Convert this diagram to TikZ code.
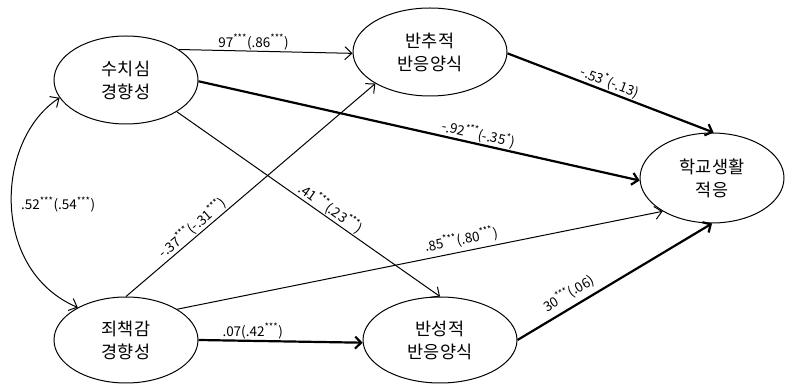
\documentclass[tikz,border=0pt]{standalone}
\usepackage{fontspec}
\setmainfont{Noto Sans CJK KR}
\usetikzlibrary{shapes.geometric,arrows.meta}
\newcommand{\sg}[1]{\textsuperscript{#1}}
\begin{document}
\begin{tikzpicture}[x=1pt,y=1pt,
  lat/.style={ellipse,draw,line width=1pt,inner sep=0pt,align=center,font=\fontsize{17.5}{23}\selectfont},
  pthin/.style={line width=1pt,-{Straight Barb[length=7pt,width=13pt]}},
  pthick/.style={line width=2.2pt,-{Straight Barb[length=6pt,width=12pt]}},
  lbl/.style={font=\fontsize{13.5}{15}\selectfont,inner sep=1pt}]
\useasboundingbox (0,0) rectangle (787,385);
\node[lat,minimum width=144pt,minimum height=88pt] (A) at (126,305) {수치심\\경향성};
\node[lat,minimum width=154pt,minimum height=88pt] (B) at (430,333) {반추적\\반응양식};
\node[lat,minimum width=144pt,minimum height=90pt] (C) at (712,207) {학교생활\\적응};
\node[lat,minimum width=144pt,minimum height=86pt] (D) at (126,45) {죄책감\\경향성};
\node[lat,minimum width=154pt,minimum height=86pt] (E) at (440,45) {반성적\\반응양식};
\draw[pthin] (A.30) -- node[lbl,above,pos=0.43]{97\sg{***}(.86\sg{***})} (B.181);
\draw[pthick] (A.-1) -- node[lbl,sloped,above,pos=0.63]{-.92\sg{***}(-.35\sg{*})} (C.182);
\draw[pthin] (A.-32) -- node[lbl,sloped,above,pos=0.565]{.41\sg{***}(.23\sg{***})} (E.90);
\draw[pthin] (D.90) -- node[lbl,sloped,above,pos=0.29]{-.37\sg{***}(-.31\sg{***})} (B.210);
\draw[pthin] (D.31) -- node[lbl,sloped,above=3pt,pos=0.59]{.85\sg{***}(.80\sg{***})} (C.214);
\draw[pthick] (D.0) -- node[lbl,above,pos=0.33]{.07(.42\sg{***})} (E.182);
\draw[pthick] (B.-1) -- node[lbl,sloped,above,pos=0.48]{-.53\sg{*}(-.13)} (C.88);
\draw[pthick] (E.0) -- node[lbl,sloped,above=4pt,pos=0.3]{30\sg{***}(.06)} (C.270);
\draw[line width=1pt,{Straight Barb[length=7pt,width=13pt]}-{Straight Barb[length=7pt,width=13pt]}]
  (A.195) .. controls (-5,245) and (-10,115) .. node[lbl,right=8pt,pos=0.5]{.52\sg{***}(.54\sg{***})} (D.146);
\end{tikzpicture}
\end{document}
